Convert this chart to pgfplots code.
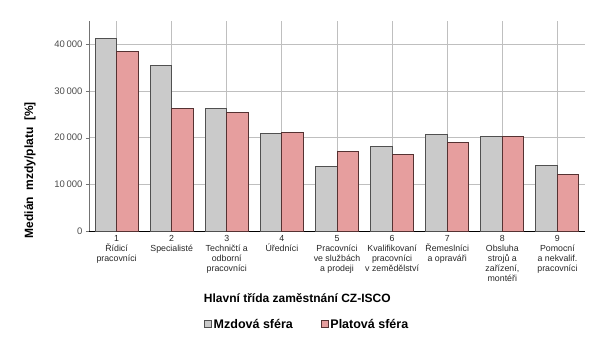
\documentclass[border=0pt]{standalone}
\usepackage{pgfplots}
\pgfplotsset{compat=1.18}
\usepackage{fontspec}
\setmainfont{Liberation Sans}
\definecolor{gbar}{RGB}{202,202,202}
\definecolor{gedge}{RGB}{80,80,80}
\definecolor{rbar}{RGB}{230,158,158}
\definecolor{redge}{RGB}{85,50,50}
\definecolor{grid}{RGB}{215,215,215}
\begin{document}
\begin{tikzpicture}
\begin{axis}[
  scale only axis,
  width=496pt, height=210pt,
  xmin=0.5, xmax=9.5,
  ymin=0, ymax=45000,
  ybar=0pt, bar width=0.39,
  scaled y ticks=false,
  ytick={0,10000,20000,30000,40000},
  yticklabel={\pgfmathprintnumber[1000 sep={\,}]{\tick}},
  /pgf/number format/assume math mode=true,
  yticklabel style={font=\fontsize{9.5}{11}\selectfont, text=black!70},
  xtick={1,...,9},
  xticklabels={{1\\Řídicí\\pracovníci},{2\\Specialisté},{3\\Techničtí a\\odborní\\pracovníci},{4\\Úředníci},{5\\Pracovníci\\ve službách\\a prodeji},{6\\Kvalifikovaní\\pracovníci\\v zemědělství},{7\\Řemeslníci\\a opraváři},{8\\Obsluha\\strojů a\\zařízení,\\montéři},{9\\Pomocní\\a nekvalif.\\pracovníci}},
  xticklabel style={font=\fontsize{8.8}{10}\selectfont, align=center, yshift=2pt, text=black!85},
  major x tick style={draw=none},
  ymajorgrids, grid style={grid, line width=0.8pt},
  axis x line*=bottom, axis y line*=left,
  x axis line style={black, line width=0.8pt, -},
  y axis line style={black!55, line width=0.6pt, -},
  major tick length=3pt,
  ytick style={black!55},
  tick align=outside,
  xlabel={\bfseries Hlavní třída zaměstnání CZ-ISCO},
  xlabel style={font=\fontsize{12}{14}\selectfont, at={(axis description cs:0.42,-0.318)}, anchor=center},
  ylabel={\bfseries Medián \ mzdy/platu \ [\%]},
  ylabel style={font=\fontsize{12}{14}\selectfont, at={(axis description cs:-0.119,0.29)}, anchor=center},
  legend style={at={(axis description cs:0.44,-0.445)}, anchor=center, draw=none, fill=none,
    legend columns=2, font=\bfseries\fontsize{12.5}{14}\selectfont,
    /tikz/every even column/.append style={column sep=26pt}},
  legend image code/.code={\draw[#1, line width=0.5pt] (0pt,-3pt) rectangle (7pt,4pt);},
  clip=false,
]
\addplot[fill=gbar, draw=gedge, line width=1pt] coordinates {
(1,41300) (2,35500) (3,26200) (4,20900) (5,13800) (6,18100) (7,20700) (8,20300) (9,14000)};
\addplot[fill=rbar, draw=redge, line width=1pt] coordinates {
(1,38500) (2,26200) (3,25300) (4,21200) (5,17000) (6,16400) (7,19000) (8,20200) (9,12100)};
\legend{Mzdová sféra, Platová sféra}
\end{axis}
\pgfresetboundingbox
\path[use as bounding box] (-89pt,-122pt) rectangle (520pt,231pt);
\end{tikzpicture}
\end{document}
